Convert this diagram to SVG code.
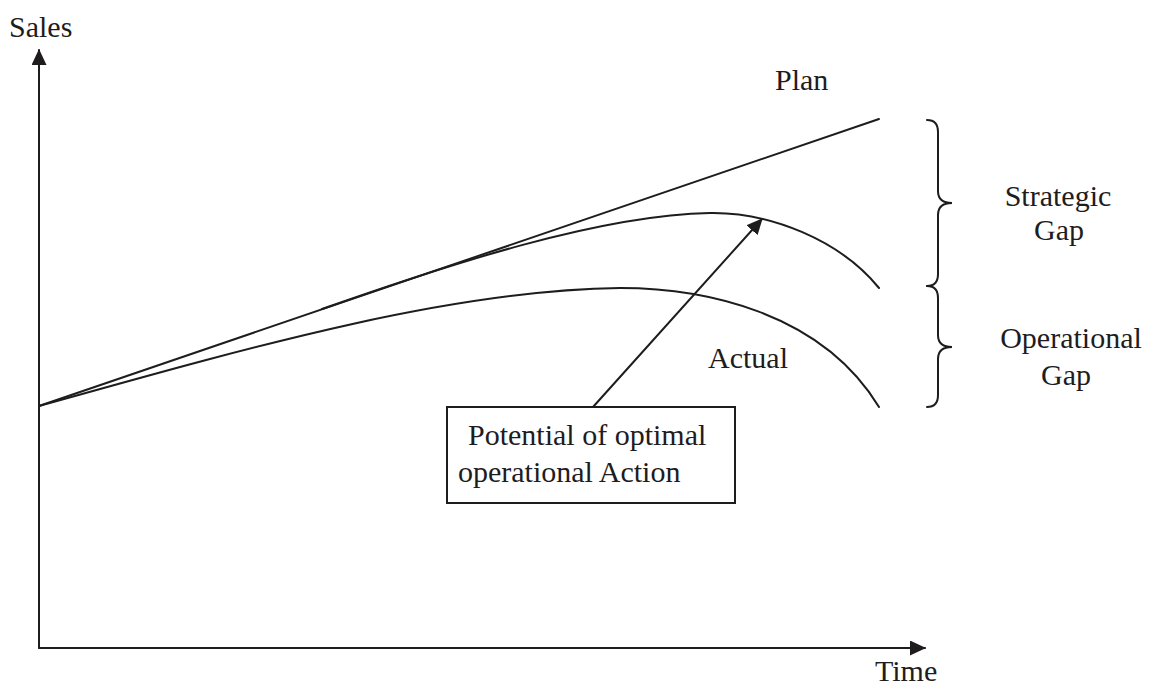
<svg xmlns="http://www.w3.org/2000/svg" width="1155" height="686" viewBox="0 0 1155 686">
  <style>
    .ln { fill: none; stroke: #1e1c1d; stroke-width: 2; stroke-linecap: round; }
    .lbl { font-family: "Liberation Serif", "Times New Roman", serif; font-size: 30px; fill: #1e1c1d; }
    .mid { text-anchor: middle; }
  </style>
  <defs>
    <marker id="head" markerWidth="16" markerHeight="15" refX="15" refY="7.5" orient="auto" markerUnits="userSpaceOnUse">
      <path d="M0,0 L16,7.5 L0,15 Z" fill="#1e1c1d"/>
    </marker>
  </defs>
  <rect width="1155" height="686" fill="#ffffff"/>

  <!-- axes -->
  <g id="axes">
    <line class="ln" x1="39" y1="648" x2="39" y2="50" marker-end="url(#head)"/>
    <line class="ln" x1="39" y1="648" x2="925" y2="648" marker-end="url(#head)"/>
    <text class="lbl" x="9" y="37">Sales</text>
    <text class="lbl" x="875" y="681">Time</text>
  </g>

  <!-- plan line and sales curves -->
  <g id="plan">
    <line class="ln" x1="39" y1="406" x2="879" y2="119"/>
    <text class="lbl" x="775" y="90">Plan</text>
  </g>
  <g id="potential-curve">
    <path class="ln" d="M322,309 C450,264 600,215 710,213 C770,212 840,240 879,288"/>
  </g>
  <g id="actual">
    <path class="ln" d="M39,406 C250,347 450,290 620,288 C700,288 820,310 879,407"/>
    <text class="lbl" x="708" y="368">Actual</text>
  </g>

  <!-- gap braces -->
  <g id="strategic-gap">
    <path class="ln" d="M927,120 Q938,120 938,132 L938,191 Q938,203 952,203 Q938,203 938,215 L938,274 Q938,286 927,286"/>
    <text class="lbl mid" x="1058" y="206">Strategic</text>
    <text class="lbl mid" x="1059" y="240">Gap</text>
  </g>
  <g id="operational-gap">
    <path class="ln" d="M927,286 Q938,286 938,298 L938,335 Q938,347 952,347 Q938,347 938,359 L938,395 Q938,407 927,407"/>
    <text class="lbl mid" x="1071" y="348">Operational</text>
    <text class="lbl mid" x="1066" y="385">Gap</text>
  </g>

  <!-- action box -->
  <g id="action-box">
    <rect x="447" y="407" width="288" height="96" fill="#ffffff" stroke="#1e1c1d" stroke-width="2"/>
    <text class="lbl" x="468" y="445">Potential of optimal</text>
    <text class="lbl" x="458" y="482">operational Action</text>
  </g>

  <!-- connector -->
  <g id="connectors">
    <line class="ln" x1="593" y1="407" x2="762" y2="219" marker-end="url(#head)"/>
  </g>
</svg>
